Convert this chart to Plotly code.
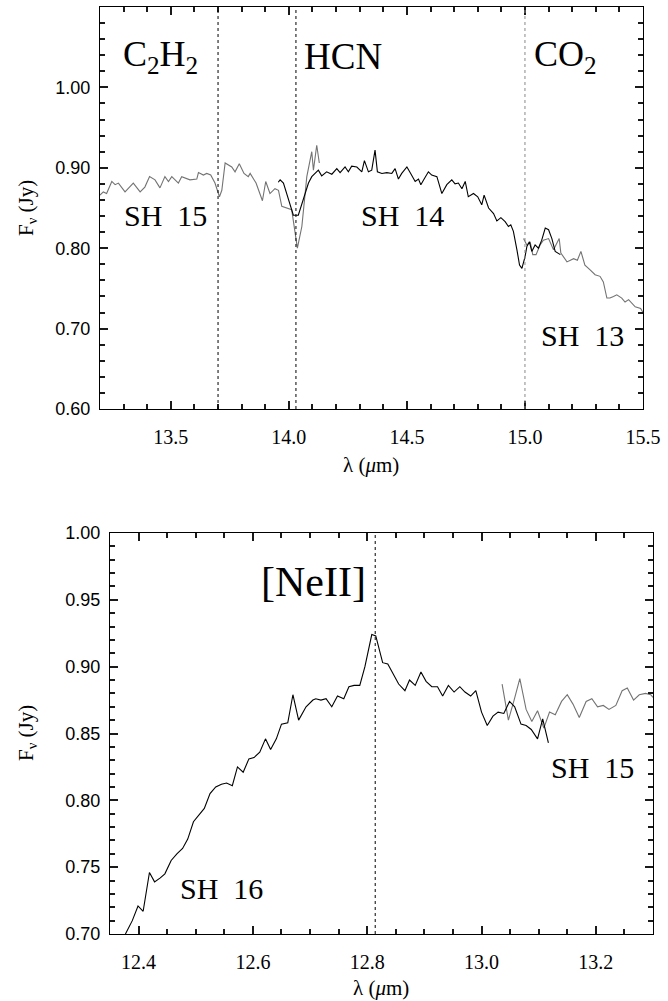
import plotly.graph_objects as go

# ---------------- data: top panel (13.2 - 15.5 um) ----------------
sh15_top_wl = [13.200, 13.214, 13.228, 13.250, 13.264, 13.278, 13.306, 13.341, 13.370, 13.390,
               13.410, 13.433, 13.454, 13.475, 13.490, 13.504, 13.532, 13.546, 13.581, 13.610,
               13.617, 13.638, 13.652, 13.669, 13.687, 13.706, 13.716, 13.730, 13.758, 13.772,
               13.790, 13.810, 13.828, 13.836, 13.861, 13.888, 13.902, 13.920, 13.941, 13.956,
               13.970, 13.991, 14.012, 14.036, 14.055, 14.076, 14.097, 14.104, 14.118, 14.129]
sh15_top_fl = [0.866, 0.870, 0.868, 0.883, 0.879, 0.881, 0.870, 0.881, 0.870, 0.876,
               0.889, 0.885, 0.875, 0.889, 0.883, 0.889, 0.881, 0.889, 0.885, 0.886,
               0.894, 0.891, 0.893, 0.891, 0.881, 0.864, 0.872, 0.906, 0.901, 0.895,
               0.905, 0.893, 0.889, 0.893, 0.881, 0.859, 0.883, 0.868, 0.874, 0.872,
               0.852, 0.850, 0.848, 0.800, 0.827, 0.889, 0.920, 0.897, 0.928, 0.906]

sh14_wl = [13.955, 13.963, 13.977, 13.991, 14.019, 14.040, 14.061, 14.083, 14.097, 14.111,
           14.125, 14.139, 14.160, 14.182, 14.203, 14.217, 14.238, 14.252, 14.266, 14.288,
           14.309, 14.320, 14.337, 14.351, 14.365, 14.375, 14.394, 14.415, 14.436, 14.450,
           14.464, 14.478, 14.500, 14.516, 14.535, 14.549, 14.559, 14.573, 14.591, 14.605,
           14.627, 14.648, 14.669, 14.690, 14.704, 14.718, 14.733, 14.747, 14.760, 14.782,
           14.800, 14.817, 14.827, 14.846, 14.867, 14.881, 14.898, 14.916, 14.930, 14.940,
           14.951, 14.966, 14.977, 14.987, 15.000, 15.008, 15.019, 15.029, 15.043, 15.057,
           15.071, 15.086, 15.100, 15.114, 15.128, 15.150]
sh14_fl = [0.882, 0.885, 0.881, 0.868, 0.841, 0.841, 0.860, 0.881, 0.889, 0.893,
           0.897, 0.890, 0.895, 0.892, 0.899, 0.894, 0.901, 0.895, 0.902, 0.901,
           0.895, 0.909, 0.895, 0.897, 0.922, 0.895, 0.893, 0.894, 0.893, 0.899,
           0.886, 0.893, 0.901, 0.893, 0.883, 0.886, 0.879, 0.886, 0.895, 0.891,
           0.889, 0.868, 0.879, 0.885, 0.880, 0.881, 0.874, 0.883, 0.864, 0.868,
           0.864, 0.854, 0.866, 0.850, 0.843, 0.834, 0.838, 0.833, 0.827, 0.829,
           0.821, 0.798, 0.779, 0.775, 0.789, 0.802, 0.808, 0.796, 0.804, 0.800,
           0.810, 0.825, 0.823, 0.812, 0.796, 0.792]

sh13_wl = [14.994, 15.008, 15.022, 15.033, 15.047, 15.064, 15.078, 15.100, 15.121, 15.135,
           15.145, 15.152, 15.178, 15.206, 15.222, 15.237, 15.254, 15.276, 15.297, 15.318,
           15.332, 15.347, 15.360, 15.375, 15.389, 15.410, 15.424, 15.439, 15.453, 15.467,
           15.490, 15.500]
sh13_fl = [0.812, 0.804, 0.808, 0.792, 0.792, 0.804, 0.810, 0.812, 0.798, 0.806,
           0.812, 0.794, 0.783, 0.787, 0.785, 0.796, 0.779, 0.773, 0.767, 0.765,
           0.758, 0.738, 0.738, 0.740, 0.742, 0.738, 0.733, 0.736, 0.731, 0.727,
           0.725, 0.720]

top_lines = [13.70, 14.03, 15.00]
top_line_colors = ["black", "black", "#888888"]

# ---------------- data: bottom panel (12.35 - 13.3 um) ----------------
sh16_wl = [12.377, 12.389, 12.399, 12.408, 12.419, 12.428, 12.438, 12.446, 12.457, 12.467,
           12.477, 12.486, 12.496, 12.506, 12.515, 12.525, 12.535, 12.545, 12.554, 12.564,
           12.573, 12.583, 12.593, 12.602, 12.612, 12.622, 12.631, 12.641, 12.650, 12.661,
           12.670, 12.680, 12.693, 12.705, 12.710, 12.719, 12.728, 12.738, 12.748, 12.759,
           12.768, 12.777, 12.787, 12.796, 12.803, 12.808, 12.815, 12.827, 12.836, 12.846,
           12.855, 12.866, 12.874, 12.884, 12.894, 12.903, 12.913, 12.923, 12.932, 12.942,
           12.952, 12.962, 12.971, 12.981, 12.990, 13.000, 13.010, 13.020, 13.029, 13.039,
           13.049, 13.058, 13.069, 13.078, 13.087, 13.098, 13.107, 13.117]
sh16_fl = [0.700, 0.710, 0.721, 0.717, 0.746, 0.739, 0.742, 0.745, 0.755, 0.760,
           0.764, 0.771, 0.784, 0.789, 0.794, 0.805, 0.810, 0.812, 0.813, 0.811,
           0.825, 0.821, 0.831, 0.832, 0.836, 0.846, 0.838, 0.846, 0.857, 0.858,
           0.879, 0.860, 0.870, 0.875, 0.876, 0.875, 0.876, 0.870, 0.878, 0.876,
           0.885, 0.886, 0.886, 0.900, 0.914, 0.924, 0.923, 0.903, 0.902, 0.894,
           0.887, 0.882, 0.890, 0.886, 0.896, 0.889, 0.885, 0.885, 0.878, 0.886,
           0.881, 0.885, 0.881, 0.878, 0.882, 0.866, 0.856, 0.863, 0.866, 0.865,
           0.874, 0.870, 0.857, 0.856, 0.853, 0.846, 0.861, 0.843]

sh15_bot_wl = [13.036, 13.047, 13.057, 13.067, 13.078, 13.088, 13.098, 13.109, 13.119, 13.129,
               13.140, 13.150, 13.160, 13.171, 13.183, 13.193, 13.203, 13.213, 13.223, 13.235,
               13.246, 13.255, 13.266, 13.276, 13.287, 13.296, 13.300]
sh15_bot_fl = [0.887, 0.860, 0.875, 0.891, 0.868, 0.859, 0.867, 0.854, 0.866, 0.864,
               0.874, 0.879, 0.872, 0.862, 0.874, 0.876, 0.870, 0.871, 0.868, 0.871,
               0.882, 0.884, 0.875, 0.879, 0.880, 0.879, 0.877]

neii_line = [12.814]

# ---------------- figure ----------------
W, H = 668, 1001
GRAY = "#737373"
SERIF = "Liberation Serif"
SANS = "Liberation Sans"

fig = go.Figure()
fig.add_trace(go.Scatter(x=sh15_top_wl, y=sh15_top_fl, mode="lines",
                         line=dict(color=GRAY, width=1.1), xaxis="x", yaxis="y"))
fig.add_trace(go.Scatter(x=sh13_wl, y=sh13_fl, mode="lines",
                         line=dict(color=GRAY, width=1.1), xaxis="x", yaxis="y"))
fig.add_trace(go.Scatter(x=sh14_wl, y=sh14_fl, mode="lines",
                         line=dict(color="black", width=1.1), xaxis="x", yaxis="y"))
fig.add_trace(go.Scatter(x=sh15_bot_wl, y=sh15_bot_fl, mode="lines",
                         line=dict(color=GRAY, width=1.1), xaxis="x2", yaxis="y2"))
fig.add_trace(go.Scatter(x=sh16_wl, y=sh16_fl, mode="lines",
                         line=dict(color="black", width=1.1), xaxis="x2", yaxis="y2"))

for xv, c in zip(top_lines, top_line_colors):
    fig.add_shape(type="line", xref="x", yref="y domain", x0=xv, x1=xv, y0=0, y1=1,
                  line=dict(color=c, width=1, dash="dot"))
for xv in neii_line:
    fig.add_shape(type="line", xref="x2", yref="y2 domain", x0=xv, x1=xv, y0=0, y1=1,
                  line=dict(color="black", width=1, dash="dot"))


def px_x(p):
    return p / W


def px_y(p):
    return (H - p) / H


def xaxis(domain, rng, anchor, tick0, dtick, mdtick):
    return dict(domain=domain, range=rng, anchor=anchor,
                tickmode="linear", tick0=tick0, dtick=dtick, tickformat=".1f",
                showline=True, linecolor="black", mirror="allticks",
                ticks="inside", ticklen=8, tickwidth=2, tickcolor="#1a1a1a",
                showgrid=False, automargin=False, ticklabelstandoff=10,
                tickfont=dict(family=SERIF, size=20, color="black"),
                minor=dict(ticks="inside", ticklen=5, tickcolor="#1a1a1a", dtick=mdtick))


def yaxis(domain, rng, anchor, tick0, dtick, mdtick):
    return dict(domain=domain, range=rng, anchor=anchor,
                tickmode="linear", tick0=tick0, dtick=dtick, tickformat=".2f",
                ticksuffix="\u00a0",
                showline=True, linecolor="black", mirror="allticks",
                ticks="inside", ticklen=8, tickwidth=2, tickcolor="#1a1a1a",
                showgrid=False, automargin=False,
                tickfont=dict(family=SANS, size=18, color="black"),
                minor=dict(ticks="inside", ticklen=5, tickcolor="#1a1a1a", dtick=mdtick))


fig.update_layout(
    width=W, height=H, margin=dict(l=0, r=0, t=0, b=0),
    paper_bgcolor="white", plot_bgcolor="white", showlegend=False,
    xaxis=xaxis([px_x(100), px_x(643)], [13.2, 15.5], "y", 13.5, 0.5, 0.1),
    yaxis=yaxis([px_y(409), px_y(7)], [0.6, 1.1], "x", 0.6, 0.1, 0.02),
    xaxis2=xaxis([px_x(110), px_x(653)], [12.35, 13.3], "y2", 12.4, 0.2, 0.05),
    yaxis2=yaxis([px_y(934), px_y(533)], [0.70, 1.0], "x2", 0.7, 0.05, 0.01),
)

ann = []


def label(text, x, y, size, family=SERIF, angle=0):
    ann.append(dict(text=text, x=px_x(x), y=px_y(y), xref="paper", yref="paper",
                    showarrow=False, xanchor="center", yanchor="middle", textangle=angle,
                    font=dict(family=family, size=size, color="black")))


# molecule / module labels
label("C<sub>2</sub>H<sub>2</sub>", 160, 57, 36)
label("HCN", 343, 57, 37)
label("CO<sub>2</sub>", 565, 57, 36)
label("SH\u00a0\u00a015", 165, 215, 30)
label("SH\u00a0\u00a014", 402, 215, 30)
label("SH\u00a0\u00a013", 582, 336, 30)
label("[NeII]", 313, 582, 42)
label("SH\u00a0\u00a016", 221, 888, 30)
label("SH\u00a0\u00a015", 592, 767, 30)

# axis titles
label("λ (<i>μ</i>m)", 371, 465, 21)
label("λ (<i>μ</i>m)", 381, 988, 21)
label("F<sub>ν</sub> (Jy)", 27, 208, 21, angle=-90)
label("F<sub>ν</sub> (Jy)", 27, 733, 21, angle=-90)

fig.update_layout(annotations=ann)
fig.write_html("out.html",
               config={"displayModeBar": False},
               post_script="document.body.style.margin='0px';"
                           "document.body.style.overflow='hidden';")
